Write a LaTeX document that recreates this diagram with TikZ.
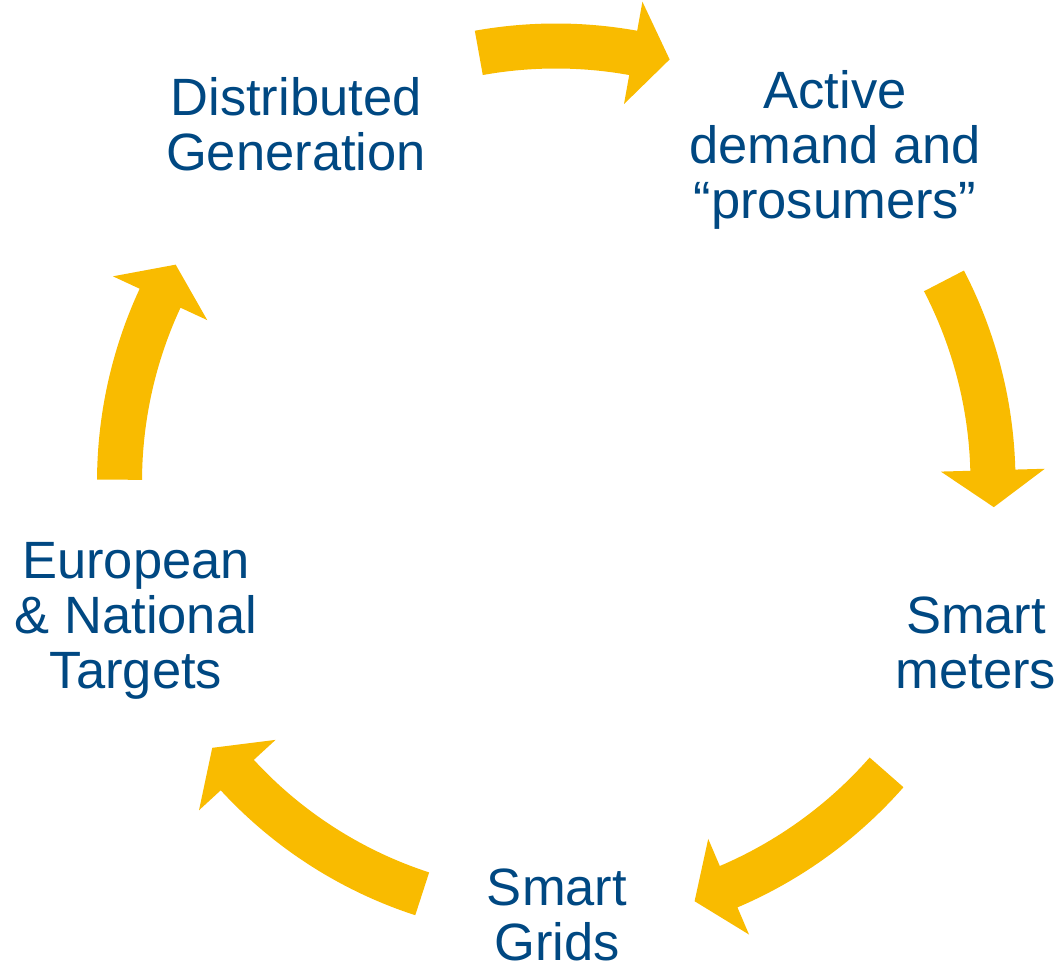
\documentclass[tikz,border=0pt]{standalone}
\usepackage{fontspec}
\setmainfont{Liberation Sans}
\usetikzlibrary{calc}

\definecolor{cycleyellow}{RGB}{249,187,0}
\definecolor{cycleblue}{RGB}{0,72,130}

% Curved block arrow on a circle around (ctr):
% #1 name, #2 radius of the centre line, #3 tail angle, #4 angle where the head starts
\newcommand\cyclearrow[4]{%
  \pgfmathsetmacro\arOuter{#2+22.5}%
  \pgfmathsetmacro\arInner{#2-22.5}%
  \pgfmathsetmacro\arBarbOut{#2+52}%
  \pgfmathsetmacro\arBarbIn{#2-52}%
  \pgfmathsetmacro\arTangent{#4-90}%
  \coordinate (#1-base) at ($(ctr)+(#4:#2)$);
  \coordinate (#1-tip) at ($(#1-base)+(\arTangent:37)$);
  \fill[arrowbody]
    ($(ctr)+(#3:\arOuter)$) arc[start angle=#3, end angle=#4, radius=\arOuter]
    -- ($(ctr)+(#4:\arBarbOut)$) -- (#1-tip) -- ($(ctr)+(#4:\arBarbIn)$)
    -- ($(ctr)+(#4:\arInner)$) arc[start angle=#4, end angle=#3, radius=\arInner]
    -- cycle;
}

% stage labels are placed by the baseline of their last line
\tikzset{
  arrowbody/.style={fill=cycleyellow},
  stage/.style={anchor=base, align=center, text=cycleblue, inner sep=0pt,
    font=\fontsize{52.5}{55}\selectfont},
}

\begin{document}
\begin{tikzpicture}[x=1pt, y=1pt]
  \useasboundingbox (0,0) rectangle (1062,968);
  \coordinate (ctr) at (556,486);

  % stages of the cycle
  \node[stage] (dg)  at (296,797) {Distributed\\Generation};
  \node[stage] (ad)  at (835,749) {Active\\demand and\\“prosumers”};
  \node[stage] (sm)  at (976,279) {Smart\\meters};
  \node[stage] (sg)  at (557,7)   {Smart\\Grids};
  \node[stage] (ent) at (136,279) {European\\\& National\\Targets};

  % arrows running clockwise between the stages
  \cyclearrow{a1}{436}{100.2}{79.8}
  \cyclearrow{a2}{437}{27.4}{1.55}
  \cyclearrow{a3}{440}{-41.3}{-66.9}
  \cyclearrow{a4}{433}{-108}{-137.4}
  \cyclearrow{a5}{436.5}{179.7}{155.1}
\end{tikzpicture}
\end{document}
